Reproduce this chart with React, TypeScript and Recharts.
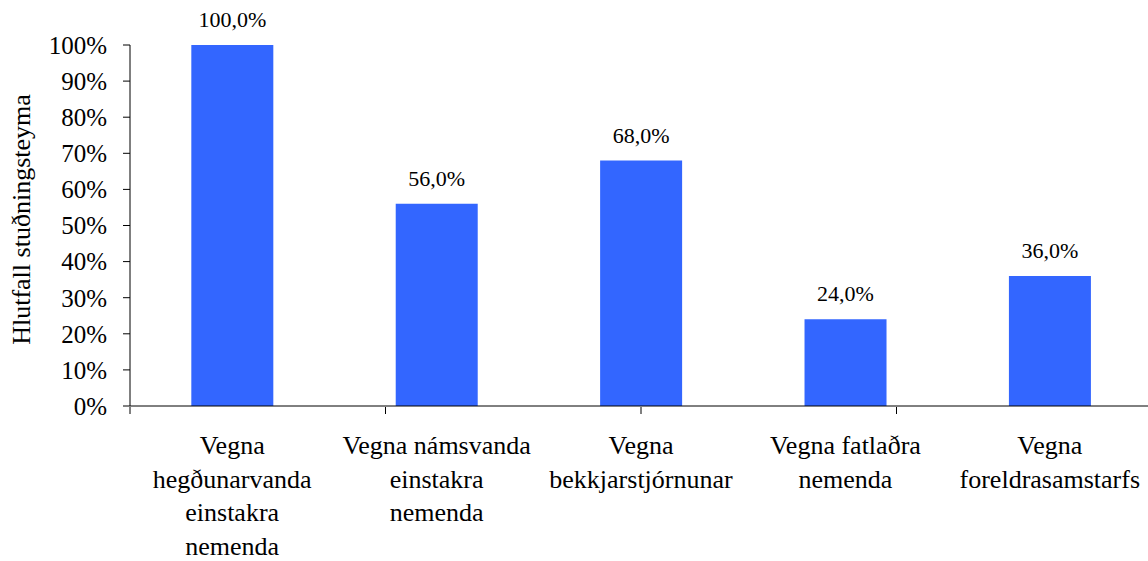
import { BarChart, Bar, XAxis, YAxis, LabelList, Label } from 'recharts';

const FONT = "'Liberation Serif', 'Times New Roman', serif";
const BLUE = '#3366ff';

const CATEGORIES = [
  'Vegna\nhegðunarvanda\neinstakra\nnemenda',
  'Vegna námsvanda\neinstakra\nnemenda',
  'Vegna\nbekkjarstjórnunar',
  'Vegna fatlaðra\nnemenda',
  'Vegna\nforeldrasamstarfs',
];
const VALUES = [100, 56, 68, 24, 36];
const Y_TICKS = [0, 10, 20, 30, 40, 50, 60, 70, 80, 90, 100];
const EDGE_TICKS = [0, 1, 2, 3, 4, 5];
const Y_TITLE = 'Hlutfall stuðningsteyma';

const data = CATEGORIES.map((name, i) => ({ name, value: VALUES[i] }));

function CategoryTick(props: any) {
  const { x, y, payload } = props;
  const lines = String(payload.value).split('\n');
  return (
    <text x={x} y={y} textAnchor="middle" fontFamily={FONT} fontSize={26} fill="#000">
      {lines.map((line, i) => (
        <tspan key={i} x={x} dy={i === 0 ? 48 : 33.5}>
          {line}
        </tspan>
      ))}
    </text>
  );
}

function YTitle(props: any) {
  const { viewBox } = props;
  const cx = viewBox.x + 30;
  const cy = viewBox.y + viewBox.height / 2 - 6;
  return (
    <text
      x={cx}
      y={cy}
      transform={`rotate(-90, ${cx}, ${cy})`}
      textAnchor="middle"
      fontFamily={FONT}
      fontSize={26}
      fill="#000"
    >
      {Y_TITLE}
    </text>
  );
}

export default function App() {
  return (
    <div
      style={{
        position: 'absolute',
        left: 0,
        top: 0,
        width: 1148,
        height: 561,
        overflow: 'hidden',
        background: '#fff',
      }}
    >
      <BarChart
        width={1152}
        height={561}
        data={data}
        margin={{ top: 45, right: 0, bottom: 153, left: 0 }}
        barCategoryGap="30%"
      >
        <XAxis
          dataKey="name"
          height={1}
          interval={0}
          tickLine={false}
          tickSize={0}
          tickMargin={0}
          axisLine={{ stroke: '#000' }}
          tick={<CategoryTick />}
        />
        <XAxis
          xAxisId="edge"
          type="number"
          domain={[0, 5]}
          ticks={EDGE_TICKS}
          allowDataOverflow
          height={1}
          axisLine={false}
          tickSize={7}
          tickLine={{ stroke: '#000' }}
          tickFormatter={() => ''}
        />
        <YAxis
          width={130}
          domain={[0, 100]}
          ticks={Y_TICKS}
          interval={0}
          tickSize={7}
          tickMargin={16}
          tickFormatter={(v: number) => `${v}%`}
          axisLine={{ stroke: '#000' }}
          tickLine={{ stroke: '#000' }}
          tick={{ fill: '#000', fontSize: 25, fontFamily: FONT }}
        >
          <Label content={<YTitle />} />
        </YAxis>
        <Bar dataKey="value" fill={BLUE} isAnimationActive={false}>
          <LabelList
            dataKey="value"
            position="top"
            offset={18}
            formatter={(v: any) => `${Number(v).toFixed(1).replace('.', ',')}%`}
            style={{ fill: '#000', fontSize: 22, fontFamily: FONT }}
          />
        </Bar>
      </BarChart>
    </div>
  );
}
